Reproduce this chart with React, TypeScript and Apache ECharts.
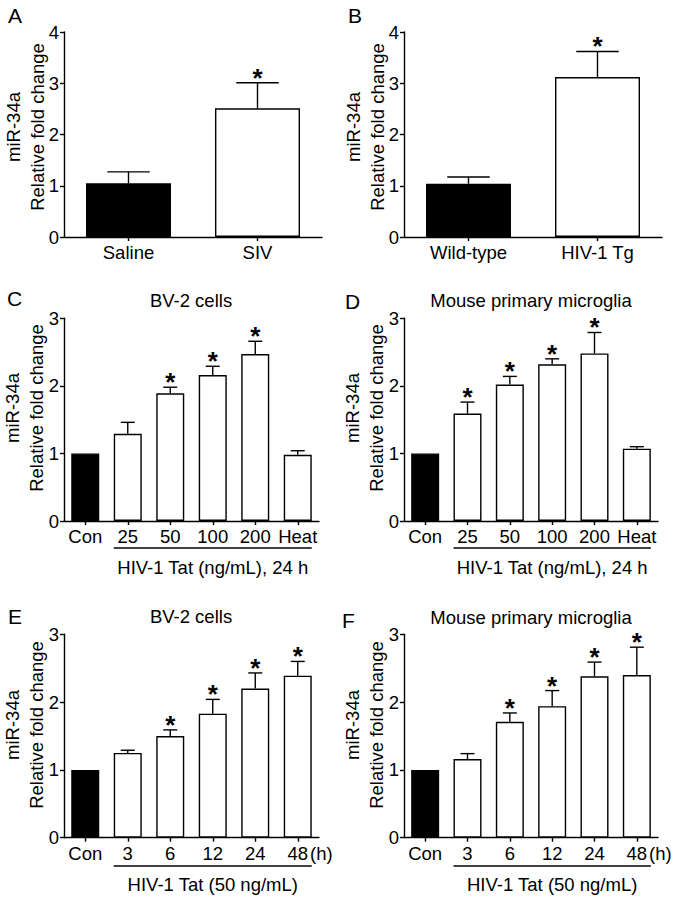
import React, { useEffect, useRef } from "react";
import * as echarts from "echarts";

const FONT = '"Liberation Sans", Arial, Helvetica, sans-serif';

// Panel A
const catsA = ["Saline", "SIV"];
const meanA = [1.05, 2.51];
const errA = [1.27, 3.01];
const starA = [0, 1];
// Panel B
const catsB = ["Wild-type", "HIV-1 Tg"];
const meanB = [1.04, 3.12];
const errB = [1.17, 3.62];
const starB = [0, 1];
// Panel C
const catsC = ["Con", "25", "50", "100", "200", "Heat"];
const meanC = [1.0, 1.29, 1.89, 2.16, 2.47, 0.98];
const errC = [1.0, 1.46, 1.98, 2.29, 2.66, 1.04];
const starC = [0, 0, 1, 1, 1, 0];
// Panel D
const catsD = ["Con", "25", "50", "100", "200", "Heat"];
const meanD = [1.0, 1.59, 2.02, 2.32, 2.48, 1.07];
const errD = [1.0, 1.76, 2.14, 2.4, 2.79, 1.1];
const starD = [0, 1, 1, 1, 1, 0];
// Panel E
const catsE = ["Con", "3", "6", "12", "24", "48"];
const meanE = [1.0, 1.25, 1.5, 1.83, 2.2, 2.39];
const errE = [1.0, 1.29, 1.59, 2.04, 2.43, 2.6];
const starE = [0, 0, 1, 1, 1, 1];
// Panel F
const catsF = ["Con", "3", "6", "12", "24", "48"];
const meanF = [1.0, 1.16, 1.71, 1.94, 2.38, 2.4];
const errF = [1.0, 1.24, 1.84, 2.17, 2.59, 2.81];
const starF = [0, 0, 1, 1, 1, 1];

const yMaxTop = 4;
const yMaxLow = 3;
const yLabel = "miR-34a\nRelative fold change";
const titleBV2 = "BV-2 cells";
const titleMouse = "Mouse primary microglia";
const bracketDose = "HIV-1 Tat (ng/mL), 24 h";
const bracketTime = "HIV-1 Tat (50 ng/mL)";
const hourUnit = "(h)";

type Panel = {
  letter: string;
  cats: string[];
  mean: number[];
  err: number[];
  star: number[];
  yMax: number;
  grid: { left: number; top: number; width: number; height: number };
  barWidth: number;
  title?: string;
  bracket?: string;
  unit?: string;
  letterPos: [number, number];
  titlePos?: [number, number];
  yNamePos: [number, number];
  bracketY?: number;
  bracketLabelY?: number;
};

const panels: Panel[] = [
  {
    letter: "A", cats: catsA, mean: meanA, err: errA, star: starA, yMax: yMaxTop,
    grid: { left: 64, top: 32, width: 258, height: 205 }, barWidth: 85,
    letterPos: [8, 15.5], yNamePos: [25.5, 127],
  },
  {
    letter: "B", cats: catsB, mean: meanB, err: errB, star: starB, yMax: yMaxTop,
    grid: { left: 404, top: 32, width: 258, height: 205 }, barWidth: 85,
    letterPos: [348, 15.5], yNamePos: [365.5, 127],
  },
  {
    letter: "C", cats: catsC, mean: meanC, err: errC, star: starC, yMax: yMaxLow,
    grid: { left: 64, top: 318.3, width: 255, height: 202.7 }, barWidth: 28,
    title: titleBV2, bracket: bracketDose,
    letterPos: [7, 298.5], titlePos: [191, 300], yNamePos: [24.5, 408],
    bracketY: 548, bracketLabelY: 567,
  },
  {
    letter: "D", cats: catsD, mean: meanD, err: errD, star: starD, yMax: yMaxLow,
    grid: { left: 404, top: 318.3, width: 254, height: 202.7 }, barWidth: 28,
    title: titleMouse, bracket: bracketDose,
    letterPos: [345, 301], titlePos: [531, 300], yNamePos: [364.5, 408],
    bracketY: 548, bracketLabelY: 567,
  },
  {
    letter: "E", cats: catsE, mean: meanE, err: errE, star: starE, yMax: yMaxLow,
    grid: { left: 64, top: 634.3, width: 255, height: 203.4 }, barWidth: 28,
    title: titleBV2, bracket: bracketTime, unit: hourUnit,
    letterPos: [8, 616.5], titlePos: [191, 616], yNamePos: [24.5, 725],
    bracketY: 866, bracketLabelY: 884,
  },
  {
    letter: "F", cats: catsF, mean: meanF, err: errF, star: starF, yMax: yMaxLow,
    grid: { left: 404, top: 634.3, width: 254, height: 203.4 }, barWidth: 28,
    title: titleMouse, bracket: bracketTime, unit: hourUnit,
    letterPos: [342, 620], titlePos: [531, 617], yNamePos: [364.5, 725],
    bracketY: 866, bracketLabelY: 884,
  },
];

const LW = 1.4;
const FS = 18.5;

function buildOption(): any {
  const grid = panels.map((p) => ({ ...p.grid, containLabel: false }));
  const xAxis = panels.map((p, i) => ({
    type: "category",
    gridIndex: i,
    data: p.cats,
    boundaryGap: true,
    axisLine: { show: true, lineStyle: { color: "#000", width: LW } },
    axisTick: { show: true, alignWithLabel: true, length: 4, lineStyle: { color: "#000", width: LW } },
    axisLabel: { color: "#000", fontSize: FS, fontFamily: FONT, margin: 6, interval: 0 },
    splitLine: { show: false },
  }));
  const yAxis = panels.map((p, i) => ({
    type: "value",
    gridIndex: i,
    min: 0,
    max: p.yMax,
    interval: 1,
    axisLine: { show: true, lineStyle: { color: "#000", width: LW } },
    axisTick: { show: true, length: 4, lineStyle: { color: "#000", width: LW } },
    axisLabel: { color: "#000", fontSize: FS, fontFamily: FONT, margin: 5 },
    splitLine: { show: false },
  }));
  const series: any[] = [];
  panels.forEach((p, i) => {
    series.push({
      type: "bar",
      xAxisIndex: i,
      yAxisIndex: i,
      barWidth: p.barWidth,
      data: p.mean.map((v, k) => ({
        value: v,
        itemStyle: { color: k === 0 ? "#000" : "#fff", borderColor: "#000", borderWidth: LW },
      })),
      silent: true,
      z: 2,
    });
    const capHalf = p.barWidth / 4;
    series.push({
      type: "custom",
      xAxisIndex: i,
      yAxisIndex: i,
      encode: { x: 0, y: 2 },
      data: p.mean.map((v, k) => [k, v, p.err[k], p.star[k]]),
      z: 3,
      silent: true,
      renderItem: (params: any, api: any) => {
        const idx = api.value(0);
        const m = api.value(1);
        const e = api.value(2);
        const s = api.value(3);
        const children: any[] = [];
        const base = api.coord([idx, m]);
        const top = api.coord([idx, e]);
        if (e > m) {
          children.push({
            type: "line",
            shape: { x1: base[0], y1: base[1], x2: top[0], y2: top[1] },
            style: { stroke: "#000", lineWidth: LW },
          });
          children.push({
            type: "line",
            shape: { x1: top[0] - capHalf, y1: top[1], x2: top[0] + capHalf, y2: top[1] },
            style: { stroke: "#000", lineWidth: LW },
          });
        }
        if (s) {
          children.push({
            type: "text",
            style: {
              text: "*",
              x: top[0],
              y: top[1] - 5,
              align: "center",
              verticalAlign: "middle",
              fill: "#000",
              fontSize: 26,
              fontWeight: "bold",
              fontFamily: FONT,
            },
          });
        }
        return { type: "group", children };
      },
    });
  });
  return {
    animation: false,
    backgroundColor: "#fff",
    grid,
    xAxis,
    yAxis,
    series,
  };
}

function buildGraphic(chart: any): any[] {
  const els: any[] = [];
  const txt = (text: string, x: number, y: number, extra: any = {}, rotation = 0) => ({
    type: "text",
    x,
    y,
    rotation,
    silent: true,
    style: {
      text,
      align: "center",
      verticalAlign: "middle",
      fill: "#000",
      fontSize: FS,
      fontFamily: FONT,
      ...extra,
    },
  });
  panels.forEach((p, i) => {
    els.push(txt(p.letter, p.letterPos[0], p.letterPos[1], { align: "left", fontSize: 21 }));
    els.push(txt(yLabel, p.yNamePos[0], p.yNamePos[1], { lineHeight: 24 }, Math.PI / 2));
    if (p.title && p.titlePos) {
      els.push(txt(p.title, p.titlePos[0], p.titlePos[1]));
    }
    if (p.bracket && p.bracketY !== undefined && p.bracketLabelY !== undefined) {
      const first = chart.convertToPixel({ gridIndex: i }, [1, 0]);
      const last = chart.convertToPixel({ gridIndex: i }, [p.cats.length - 1, 0]);
      const x1 = first[0] - p.barWidth / 2;
      const x2 = last[0] + p.barWidth / 2;
      els.push({
        type: "line",
        silent: true,
        shape: { x1, y1: p.bracketY, x2, y2: p.bracketY },
        style: { stroke: "#000", lineWidth: LW },
      });
      els.push(txt(p.bracket, (x1 + x2) / 2, p.bracketLabelY));
    }
    if (p.unit) {
      const end = chart.convertToPixel({ gridIndex: i }, [p.cats.length - 1, 0]);
      const axisEnd = p.grid.left + p.grid.width;
      els.push(txt(p.unit, axisEnd - 9, end[1] + 16, { align: "left" }));
    }
  });
  return els;
}

export default function App() {
  const ref = useRef<HTMLDivElement>(null);
  useEffect(() => {
    const chart = echarts.init(ref.current!, null, { renderer: "svg" });
    chart.setOption(buildOption());
    chart.setOption({ graphic: buildGraphic(chart) });
    return () => chart.dispose();
  }, []);
  return (
    <div
      ref={ref}
      style={{ position: "absolute", left: 0, top: 0, width: 680, height: 900, background: "#fff" }}
    />
  );
}
